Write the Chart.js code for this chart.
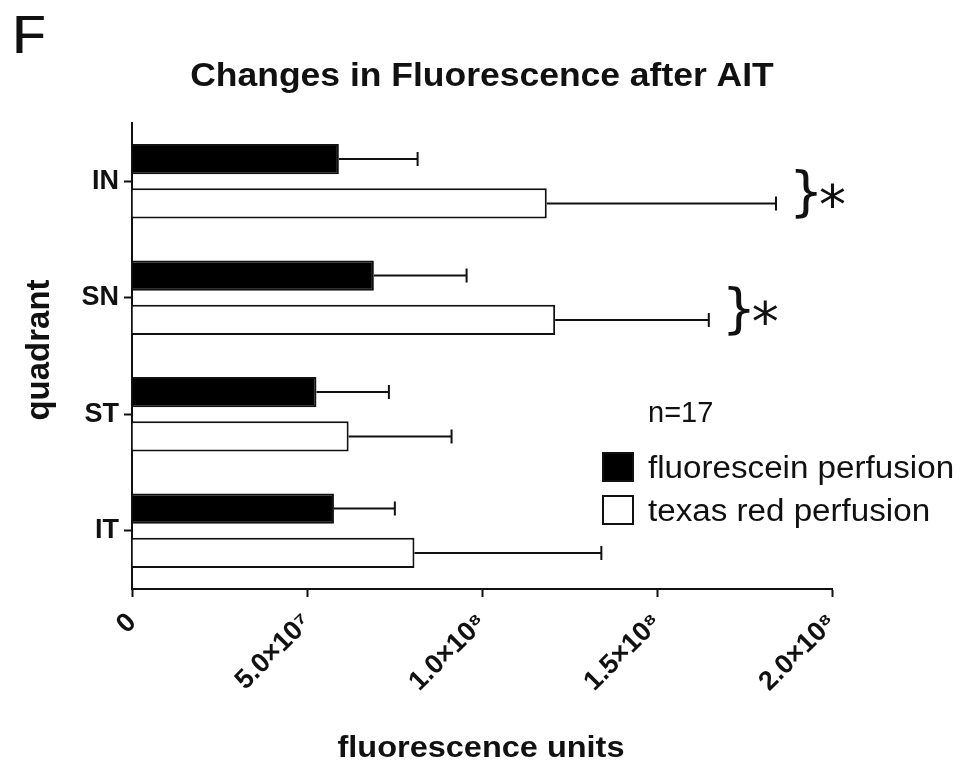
<!DOCTYPE html>
<html>
<head>
<meta charset="utf-8">
<script src="https://cdn.jsdelivr.net/npm/chart.js@4.4.1/dist/chart.umd.min.js"></script>
<style>
html,body{margin:0;padding:0;background:#fff}
</style>
</head>
<body>
<canvas id="myChart" width="974" height="763"></canvas>
<script>
var quadrants = ['IN', 'SN', 'ST', 'IT']
var fluorescein = [5.91e7, 6.91e7, 5.27e7, 5.77e7]
var fluoresceinErr = [2.25e7, 2.65e7, 2.07e7, 1.74e7]
var texasRed = [11.85e7, 12.09e7, 6.19e7, 8.07e7]
var texasRedErr = [6.55e7, 4.39e7, 2.94e7, 5.34e7]
var tickValues = [0, 5e7, 1e8, 1.5e8, 2e8]
var tickLabels = ['0', '5.0×10⁷', '1.0×10⁸', '1.5×10⁸', '2.0×10⁸']
var significant = ['IN', 'SN']
var sampleSize = 'n=17'

var INK = '#111'
var SANS = '"Liberation Sans", Arial, sans-serif'

// text a bit wider than the font, like in the original figure
function wideText(ctx, text, x, y, sx){
    ctx.save()
    ctx.translate(x, y)
    ctx.scale(sx, 1)
    ctx.fillText(text, 0, 0)
    ctx.restore()
}

// error bars: line from end of bar to mean+err, with a small cap
var errorBars = {
    id: 'errorBars',
    afterDatasetsDraw: function(chart){
        var ctx = chart.ctx
        var x = chart.scales.x
        chart.data.datasets.forEach(function(ds, i){
            var meta = chart.getDatasetMeta(i)
            meta.data.forEach(function(bar, j){
                var a = x.getPixelForValue(ds.data[j])
                var b = x.getPixelForValue(ds.data[j] + ds.errors[j])
                ctx.save()
                ctx.strokeStyle = INK
                ctx.lineWidth = 2
                ctx.beginPath()
                ctx.moveTo(a, bar.y)
                ctx.lineTo(b, bar.y)
                ctx.moveTo(b, bar.y - 7)
                ctx.lineTo(b, bar.y + 7)
                ctx.stroke()
                ctx.restore()
            })
        })
    }
}

// titles, legend, n and significance marks
var extras = {
    id: 'extras',
    afterDraw: function(chart){
        var ctx = chart.ctx
        var x = chart.scales.x
        var y = chart.scales.y
        ctx.save()
        ctx.fillStyle = INK
        ctx.textBaseline = 'alphabetic'

        ctx.textAlign = 'left'
        ctx.font = '54px ' + SANS
        ctx.fillText('F', 12, 53)
        ctx.fillText('F', 13, 53)

        ctx.textAlign = 'center'
        ctx.font = 'bold 33px ' + SANS
        wideText(ctx, 'Changes in Fluorescence after AIT', 482, 86, 1.075)

        ctx.font = 'bold 29px ' + SANS
        wideText(ctx, 'fluorescence units', 481, 757, 1.12)

        ctx.save()
        ctx.translate(49, 350)
        ctx.rotate(-Math.PI / 2)
        ctx.font = 'bold 33px ' + SANS
        ctx.fillText('quadrant', 0, 0)
        ctx.restore()

        // legend
        ctx.textAlign = 'left'
        ctx.font = '29px ' + SANS
        wideText(ctx, sampleSize, 648, 422, 1.0)
        ctx.font = '31px ' + SANS
        chart.data.datasets.forEach(function(ds, i){
            var cy = 467 + i * 43
            ctx.fillStyle = ds.backgroundColor
            ctx.fillRect(603, cy - 14, 30, 28)
            ctx.strokeStyle = INK
            ctx.lineWidth = 2
            ctx.strokeRect(603, cy - 14, 30, 28)
            ctx.fillStyle = INK
            wideText(ctx, ds.label, 648, cy + 11, 1.07)
        })

        // significance braces
        var tr = chart.data.datasets[1]
        significant.forEach(function(q){
            var j = quadrants.indexOf(q)
            var xe = x.getPixelForValue(tr.data[j] + tr.errors[j])
            var yc = y.getPixelForValue(j) + 15
            ctx.textAlign = 'left'
            ctx.textBaseline = 'middle'
            ctx.font = '54px "DejaVu Sans", sans-serif'
            ctx.fillText('}', xe + 13, yc)
            ctx.font = '54px "DejaVu Sans", sans-serif'
            ctx.fillText('*', xe + 43, yc + 13)
        })
        ctx.restore()
    }
}

var ctx = document.getElementById('myChart').getContext('2d')
var myChart = new Chart(ctx, {
    type: 'bar',
    data: {
        labels: quadrants,
        datasets: [{
            label: 'fluorescein perfusion',
            data: fluorescein,
            errors: fluoresceinErr,
            backgroundColor: '#000',
            borderColor: INK,
            borderWidth: 2
        }, {
            label: 'texas red perfusion',
            data: texasRed,
            errors: texasRedErr,
            backgroundColor: '#fff',
            borderColor: INK,
            borderWidth: 2
        }]
    },
    options: {
        indexAxis: 'y',
        responsive: false,
        animation: false,
        categoryPercentage: 0.76,
        barPercentage: 0.68,
        layout: { padding: { top: 123, right: 142, left: 0, bottom: 0 } },
        plugins: {
            legend: { display: false },
            tooltip: { enabled: false }
        },
        scales: {
            x: {
                type: 'linear',
                min: 0,
                max: 2e8,
                afterFit: function(s){ s.height = 174 },
                afterBuildTicks: function(s){
                    s.ticks = tickValues.map(function(v){ return { value: v } })
                },
                ticks: {
                    minRotation: 45,
                    maxRotation: 45,
                    padding: 10,
                    color: INK,
                    font: { family: SANS, size: 27, weight: 'bold' },
                    callback: function(v){ return tickLabels[tickValues.indexOf(v)] }
                },
                grid: { drawOnChartArea: false, tickLength: 8, tickWidth: 2, tickColor: INK },
                border: { color: INK, width: 2 }
            },
            y: {
                afterFit: function(s){ s.width = 132 },
                ticks: {
                    padding: 5,
                    color: INK,
                    font: { family: SANS, size: 27, weight: 'bold' }
                },
                grid: { offset: false, drawOnChartArea: false, tickLength: 8, tickWidth: 2, tickColor: INK },
                border: { color: INK, width: 2 }
            }
        }
    },
    plugins: [errorBars, extras]
})
</script>
</body>
</html>
